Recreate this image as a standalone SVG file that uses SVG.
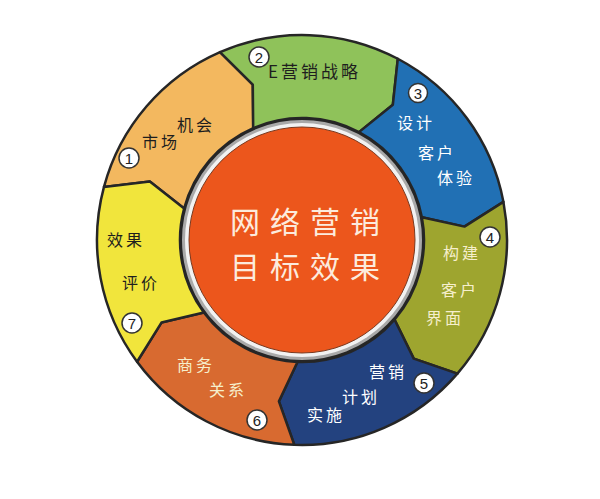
<svg xmlns="http://www.w3.org/2000/svg" width="600" height="499" viewBox="0 0 600 499">
<style>
.seg{stroke:#262626;stroke-width:2.5;stroke-linejoin:round}
.t{font-family:"Noto Sans CJK SC","Noto Sans",sans-serif;font-size:16px;text-anchor:middle;letter-spacing:3px}
.dk{fill:#1e1e1e}
.wh{fill:#ffffff}
.cr{fill:#f6efcc}
.ct{font-family:"Noto Sans CJK SC","Noto Sans",sans-serif;font-size:30px;letter-spacing:10px;text-anchor:middle;fill:#FCEBDD}
.badge circle{fill:#ffffff;stroke:#333333;stroke-width:1.5}
.badge text{font-family:"Liberation Sans",sans-serif;font-size:15px;fill:#222222;text-anchor:middle}
</style>
<rect width="600" height="499" fill="#ffffff"/>
<g id="connectors"></g>
<g id="seg1"><path class="seg" fill="#F3B85F" d="M103.98,186.94 A205,205 0 0 1 220.02,52.11 L252.79,84.61 L253.21,128.18 A122,122 0 0 0 184.16,208.42 L149.83,181.59 Z"/>
<text class="t dk" x="196" y="131">机会</text><text class="t dk" x="161" y="148">市场</text></g>
<g id="seg2"><path class="seg" fill="#8FC25A" d="M220.02,52.11 A205,205 0 0 1 397.80,58.76 L392.86,104.67 L359.01,132.14 A122,122 0 0 0 253.21,128.18 L252.79,84.61 Z"/>
<text x="268" y="78" style="font-family:'Noto Sans CJK SC','Noto Sans',sans-serif;font-size:17px;letter-spacing:3px" fill="#1e1e1e">E营销战略</text></g>
<g id="seg3"><path class="seg" fill="#2170B4" d="M397.80,58.76 A205,205 0 0 1 503.43,201.89 L464.45,226.60 L421.87,217.32 A122,122 0 0 0 359.01,132.14 L392.86,104.67 Z"/>
<text class="t wh" x="416" y="129">设计</text><text class="t wh" x="437" y="159">客户</text><text class="t wh" x="456" y="184">体验</text></g>
<g id="seg4"><path class="seg" fill="#9EA52F" d="M503.43,201.89 A205,205 0 0 1 457.41,373.69 L413.74,358.67 L394.49,319.56 A122,122 0 0 0 421.87,217.32 L464.45,226.60 Z"/>
<text class="t cr" x="462" y="259">构建</text><text class="t cr" x="460" y="296">客户</text><text class="t cr" x="445" y="324">界面</text></g>
<g id="seg5"><path class="seg" fill="#23427F" d="M457.41,373.69 A205,205 0 0 1 294.33,444.86 L278.91,401.36 L297.44,361.91 A122,122 0 0 0 394.49,319.56 L413.74,358.67 Z"/>
<text class="t wh" x="388" y="378">营销</text><text class="t wh" x="361" y="403">计划</text><text class="t wh" x="326" y="421">实施</text></g>
<g id="seg6"><path class="seg" fill="#D86A30" d="M294.33,444.86 A205,205 0 0 1 137.06,361.74 L161.45,322.55 L203.84,312.45 A122,122 0 0 0 297.44,361.91 L278.91,401.36 Z"/>
<text class="t cr" x="196" y="371">商务</text><text class="t cr" x="228" y="396">关系</text></g>
<g id="seg7"><path class="seg" fill="#F1E53C" d="M137.06,361.74 A205,205 0 0 1 103.98,186.94 L149.83,181.59 L184.16,208.42 A122,122 0 0 0 203.84,312.45 L161.45,322.55 Z"/>
<text class="t dk" x="126" y="246">效果</text><text class="t dk" x="141" y="289">评价</text></g>
<g id="center">
<circle cx="302" cy="240" r="121" fill="#a9a9a9" stroke="#262626" stroke-width="2"/>
<circle cx="302" cy="240" r="117" fill="#f2f2f2"/>
<circle cx="302" cy="240" r="113" fill="#EC561C" stroke="#7a3a20" stroke-width="1"/>
<text class="ct" x="310" y="233">网络营销</text>
<text class="ct" x="310" y="277.5">目标效果</text>
</g>
<g id="b1" class="badge"><circle cx="129" cy="158" r="10"/><text x="129" y="163.5">1</text></g>
<g id="b2" class="badge"><circle cx="259" cy="57" r="10"/><text x="259" y="62.5">2</text></g>
<g id="b3" class="badge"><circle cx="418" cy="93" r="9.5"/><text x="418" y="98.5">3</text></g>
<g id="b4" class="badge"><circle cx="490" cy="237" r="10"/><text x="490" y="242.5">4</text></g>
<g id="b5" class="badge"><circle cx="424" cy="383" r="10"/><text x="424" y="388.5">5</text></g>
<g id="b6" class="badge"><circle cx="257" cy="420" r="10"/><text x="257" y="425.5">6</text></g>
<g id="b7" class="badge"><circle cx="132" cy="323" r="10"/><text x="132" y="328.5">7</text></g>
</svg>
